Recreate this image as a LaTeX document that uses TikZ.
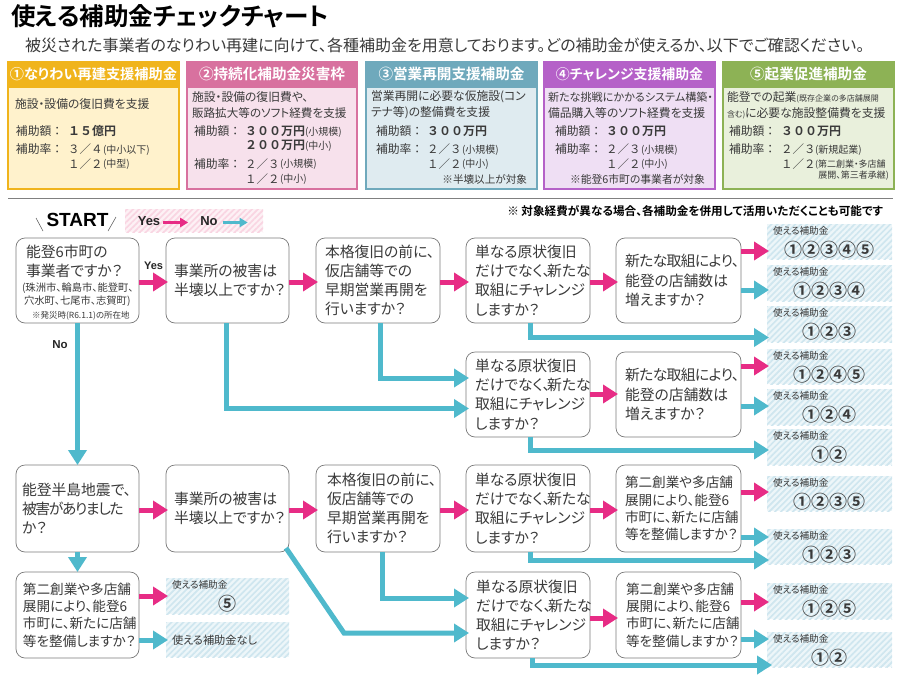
\documentclass[tikz,border=0pt]{standalone}
\usepackage{fontspec}
\usetikzlibrary{arrows.meta,patterns.meta,calc}
\setmainfont[RawFeature=+palt,BoldFont={Noto Sans CJK JP Bold}]{Noto Sans CJK JP}
\newfontfamily\fwfont[BoldFont={Noto Sans CJK JP Bold}]{Noto Sans CJK JP}
\newfontfamily\latfont{Liberation Sans}
\newcommand\fs[1]{\fontsize{#1}{#1}\selectfont}
\definecolor{ink}{HTML}{3A3A3A}
\definecolor{apink}{HTML}{E72C85}
\definecolor{ateal}{HTML}{4FB9CC}
\definecolor{hatchb}{HTML}{EDF6F9}
\definecolor{hatchl}{HTML}{CFE6EF}
\definecolor{hatchpb}{HTML}{FDF1F5}
\definecolor{hatchpl}{HTML}{F9D5E2}
\tikzset{
  every node/.style={inner sep=0pt,outer sep=0pt,text=ink},
  qbox/.style={draw=black!52,line width=.7pt,rounded corners=9pt,fill=white,align=left,anchor=center},
  pinkarrow/.style={draw=apink,line width=5pt,-{Triangle[length=15pt,width=18pt]}},
  tealarrow/.style={draw=ateal,line width=5pt,-{Triangle[length=15pt,width=18pt]}},
  resbox/.style={anchor=center,fill=hatchb,postaction={pattern={Lines[angle=45,distance=4.2pt,line width=1.7pt]},pattern color=hatchl}},
  cardtext/.style={anchor=west,align=left},
  headtext/.style={anchor=center,text=white,font=\bfseries\fs{14.6}},
}
\newcounter{tn}
\newcommand\tx[3]{\stepcounter{tn}\node[cardtext] (t\arabic{tn}) at (#1,#2) {#3};}
\newcommand\txr[3]{\stepcounter{tn}\node[anchor=east,align=right] (t\arabic{tn}) at (#1,#2) {#3};}
% name x1 y1 x2 y2 inset size leading text
\newcommand\qb[9]{%
  \pgfmathsetmacro\bw{#4-#2}\pgfmathsetmacro\bh{#5-#3}\pgfmathsetmacro\tw{#4-#2-2*#6}%
  \node[qbox,minimum width=\bw pt,minimum height=\bh pt,text width=\tw pt,inner xsep=#6pt] (#1) at ({(#2+#4)/2},{(#3+#5)/2}) {\fontsize{#7}{#8}\selectfont #9\par};}
% name x1 y1 x2 y2 numbers
\newcommand\rb[6]{%
  \pgfmathsetmacro\bw{#4-#2}\pgfmathsetmacro\bh{#5-#3}%
  \node[resbox,minimum width=\bw pt,minimum height=\bh pt] (#1) at ({(#2+#4)/2},{(#3+#5)/2}) {};
  \node[anchor=west,font=\fs{9.6}] (#1l) at ({#2+6},{#3+7}) {使える補助金};
  \node[anchor=center,font=\fwfont\bfseries\fs{18}] (#1n) at ({#2+62},{#3+25.5}) {#6};}
% card: name x1 x2 header-colour body-colour title
\newcommand\card[6]{%
  \pgfmathsetmacro\bw{#3-#2}%
  \definecolor{hc}{HTML}{#4}\definecolor{bc}{HTML}{#5}%
  \node[draw=hc,line width=2pt,fill=bc,minimum width=\bw pt-2pt,minimum height=127pt,anchor=north west] (#1) at ({#2+1},62) {};
  \node[fill=hc,minimum width=\bw pt,minimum height=27pt,anchor=north west] (#1h) at (#2,61) {};
  \node[headtext] (#1t) at ({(#2+#3)/2},74) {#6};}
\newcommand\fwn[1]{{\fwfont\fs{11.5}#1}}
\newcommand\fwb[1]{{\fwfont\bfseries\fs{12}#1}}
\newcommand\sm[1]{{\fs{10}#1}}
\newcommand\hgaku{{\fwfont 補助額：}}
\newcommand\hritu{{\fwfont 補助率：}}
\newcommand\dake{だけでなく、\kern-3pt 新たな}
\newcommand\atar{{\addfontfeature{LetterSpace=-4}新たな取組により、}}
\newcommand\higai{{\addfontfeature{LetterSpace=-9}被害がありました}}
% straight horizontal connector from a side point of one node to the edge of another
\newcommand\toedge[5][]{\coordinate (tmp) at ([yshift=#4pt]#2.east);\draw[#5,#1] (tmp) -- (tmp -| #3.west);}
\begin{document}
\begin{tikzpicture}[x=1pt,y=-1pt]
\useasboundingbox (0,0) rectangle (900,675);
\fill[white] (0,0) rectangle (900,675);
\node[anchor=west,font=\bfseries\fs{24.6},text=black] (title) at (11,16) {使える補助金チェックチャート};
\node[anchor=west,font=\fs{16}] (sub) at (25,45.5) {被災された事業者のなりわい再建に向けて、各種補助金を用意しております。どの補助金が使えるか、以下でご確認ください。};
\card{c1}{7}{180}{F0B41C}{FFF2CC}{\fs{14.2}①なりわい再建支援補助金}
\card{c2}{186}{358}{D8719F}{F7E1EC}{②持続化補助金災害枠}
\card{c3}{365}{538}{6FA9BC}{DFEBF0}{③営業再開支援補助金}
\card{c4}{543}{716}{B561C8}{EFDFF4}{\fs{13.9}④チャレンジ支援補助金}
\card{c5}{722}{895}{8DB255}{E9F0DC}{⑤起業促進補助金}
\fs{11.8}
% card 1
\tx{15}{104}{施設・設備の復旧費を支援}
\tx{16}{131}{\hgaku}\tx{68}{131}{\fwb{１５億円}}
\tx{16}{149}{\hritu}\tx{68}{149}{\fwn{３／４}}\tx{103}{150}{\sm{(中小以下)}}
\tx{68}{164}{\fwn{１／２}}\tx{103}{164}{\sm{(中型)}}
% card 2
\tx{192}{97}{施設・設備の復旧費や、}
\tx{192}{113}{\fs{11.6}販路拡大等のソフト経費を支援}
\tx{194}{131}{\hgaku}\tx{245}{131}{\fwb{３００万円}}\tx{305}{132}{\sm{(小規模)}}
\tx{245}{145}{\fwb{２００万円}}\tx{305}{146}{\sm{(中小)}}
\tx{194}{164}{\hritu}\tx{245}{164}{\fwn{２／３}}\tx{280}{164}{\sm{(小規模)}}
\tx{245}{179}{\fwn{１／２}}\tx{280}{179}{\sm{(中小)}}
% card 3
\tx{371}{97}{営業再開に必要な仮施設(コン}
\tx{371}{113}{テナ等)の整備費を支援}
\tx{376}{131}{\hgaku}\tx{427}{131}{\fwb{３００万円}}
\tx{376}{149}{\hritu}\tx{427}{149}{\fwn{２／３}}\tx{462}{150}{\sm{(小規模)}}
\tx{427}{164}{\fwn{１／２}}\tx{462}{164}{\sm{(中小)}}
\txr{527}{179}{{\fs{10.6}※半壊以上が対象}}
% card 4
\tx{548}{97}{\fs{11.1}新たな挑戦にかかるシステム構築・}
\tx{548}{113}{備品購入等のソフト経費を支援}
\tx{555}{131}{\hgaku}\tx{606}{131}{\fwb{３００万円}}
\tx{555}{149}{\hritu}\tx{606}{149}{\fwn{２／３}}\tx{641}{150}{\sm{(小規模)}}
\tx{606}{164}{\fwn{１／２}}\tx{641}{164}{\sm{(中小)}}
\txr{705}{179}{{\fs{10.8}※能登6市町の事業者が対象}}
% card 5
\tx{727}{97}{能登での起業{\fs{8}(既存企業の多店舗展開}}
\tx{727}{113}{{\fs{8}含む)}{\fs{11.8}に必要な施設整備費を支援}}
\tx{729}{131}{\hgaku}\tx{781}{131}{\fwb{３００万円}}
\tx{729}{149}{\hritu}\tx{781}{149}{\fwn{２／３}}\tx{815}{150}{\sm{(新規起業)}}
\tx{781}{164}{\fwn{１／２}}\tx{815}{165}{{\fs{9}(第二創業・多店舗}}
\txr{889}{176}{{\fs{9}展開、第三者承継)}}
% rule
\coordinate (ruleL) at (8,198.5);\coordinate (ruleR) at (893,198.5);
\draw[black!50,line width=.7pt] (ruleL) -- (ruleR);
% start
\node[font=\latfont\bfseries\fs{19},text=black] (start) at (77.5,220) {START};
\coordinate (s1a) at (36,218);\coordinate (s1b) at (43,231);\coordinate (s2a) at (116,217);\coordinate (s2b) at (108,231);
\draw[black!70,line width=.5pt] (s1a) -- (s1b);
\draw[black!70,line width=.5pt] (s2a) -- (s2b);
% legend
\node[minimum width=138pt,minimum height=23pt,anchor=north west,fill=hatchpb,postaction={pattern={Lines[angle=45,distance=4.2pt,line width=1.7pt]},pattern color=hatchpl}] (legend) at (125,209) {};
\node[font=\latfont\bfseries\fs{13},text=black!85] (lyes) at (149,221) {Yes};
\node[font=\latfont\bfseries\fs{13},text=black!85] (lno) at (209,221) {No};
\draw[draw=apink,line width=2.6pt,-{Triangle[length=8pt,width=9pt]}] ([shift={(3pt,-1.5pt)}]lyes.east) -- ++(25,0);
\draw[draw=ateal,line width=2.6pt,-{Triangle[length=8pt,width=9pt]}] ([shift={(5pt,-1.5pt)}]lno.east) -- ++(25,0);
\node[anchor=east,font=\bfseries\fs{11.6},text=black] (note) at (883,211) {※ 対象経費が異なる場合、各補助金を併用して活用いただくことも可能です};
% result boxes
\rb{r1}{767}{224}{892}{259}{①②③④⑤}
\rb{r2}{767}{265}{892}{301}{①②③④}
\rb{r3}{767}{306}{892}{342}{①②③}
\rb{r4}{767}{349}{892}{384}{①②④⑤}
\rb{r5}{767}{389}{892}{425}{①②④}
\rb{r6}{767}{429}{892}{465}{①②}
\rb{r7}{767}{476}{892}{511}{①②③⑤}
\rb{r8}{767}{529}{892}{564}{①②③}
\rb{r9}{767}{583}{892}{619}{①②⑤}
\rb{r10}{767}{632}{892}{667}{①②}
\node[resbox,minimum width=123pt,minimum height=36pt,anchor=north west] (r11) at (166,578) {};
\node[anchor=west,font=\fs{9.6}] (r11l) at (172,585) {使える補助金};
\node[anchor=center,font=\fwfont\bfseries\fs{18}] (r11n) at (227,604) {⑤};
\node[resbox,minimum width=123pt,minimum height=35pt,anchor=north west] (r12) at (166,622) {};
\node[anchor=west,font=\fs{11.2}] (r12l) at (172,640) {使える補助金なし};
% question boxes
\qb{a}{16}{238}{139}{323}{10}{14.8}{19}{}
\tx{26}{252}{\fs{14.8}能登6市町の}
\tx{26}{271}{\fs{14.8}事業者ですか？}
\tx{22}{288}{\fs{10.3}(珠洲市、輪島市、能登町、}
\tx{24}{301}{\fs{10.3}穴水町、七尾市、志賀町)}
\tx{32}{316}{\fs{8.5}※発災時(R6.1.1)の所在地}
\qb{b}{166}{238}{289}{323}{8}{14.8}{19}{事業所の被害は\\半壊以上ですか？}
\qb{c}{316}{238}{440}{323}{9}{14.8}{19.2}{本格復旧の前に、\\仮店舗等での\\早期営業再開を\\行いますか？}
\qb{d}{466}{238}{590}{323}{9}{14.8}{19.2}{単なる原状復旧\\\dake\\取組にチャレンジ\\しますか？}
\qb{e}{616}{238}{741}{323}{9}{14.8}{19.2}{\atar\\能登の店舗数は\\増えますか？}
\qb{d2}{466}{352}{590}{437}{9}{14.8}{19.2}{単なる原状復旧\\\dake\\取組にチャレンジ\\しますか？}
\qb{e2}{616}{352}{741}{437}{9}{14.8}{19.2}{\atar\\能登の店舗数は\\増えますか？}
\qb{a3}{16}{465}{139}{552}{6}{14.8}{19.2}{能登半島地震で、\\\higai\\か？}
\qb{b3}{166}{465}{289}{552}{8}{14.8}{19}{事業所の被害は\\半壊以上ですか？}
\qb{c3}{316}{465}{440}{552}{11}{14.8}{19.2}{本格復旧の前に、\\仮店舗等での\\早期営業再開を\\行いますか？}
\qb{d3}{466}{465}{590}{552}{9}{14.8}{19.2}{単なる原状復旧\\\dake\\取組にチャレンジ\\しますか？}
\qb{e3}{616}{465}{741}{552}{9}{13.6}{17.3}{第二創業や多店舗\\展開により、能登6\\市町に、新たに店舗\\等を整備しますか？}
\qb{a4}{16}{572}{139}{658}{7}{13.6}{17.3}{第二創業や多店舗\\展開により、能登6\\市町に、新たに店舗\\等を整備しますか？}
\qb{d4}{466}{572}{590}{658}{10}{14.8}{19.2}{単なる原状復旧\\\dake\\取組にチャレンジ\\しますか？}
\qb{e4}{616}{572}{741}{658}{10}{13.6}{17.3}{第二創業や多店舗\\展開により、能登6\\市町に、新たに店舗\\等を整備しますか？}
% connectors
\toedge[shorten >=-2pt]{a}{b}{-1.5}{pinkarrow}
\node[font=\latfont\bfseries\fs{11},text=black!85] (yes) at (153.5,266) {Yes};
\toedge[shorten >=-2pt]{b}{c}{-1.5}{pinkarrow}
\toedge[shorten >=-3pt]{c}{d}{-1.5}{pinkarrow}
\toedge[shorten >=-2pt]{d}{e}{-1.5}{pinkarrow}
\toedge[shorten >=-2pt]{e}{r1}{29.5}{pinkarrow}
\toedge[shorten >=-2pt]{e}{r2}{-9.5}{tealarrow}
\draw[tealarrow,shorten >=-2pt] ([xshift=2pt]d.south) |- ([yshift=-13.5pt]r3.west);
\draw[tealarrow] (a.south) -- (a3.north);
\node[font=\latfont\bfseries\fs{11.5},text=black!85] (no) at (60,345) {No};
\draw[tealarrow,shorten >=-3pt] ([xshift=2pt]c.south) |- ([yshift=16.5pt]d2.west);
\draw[tealarrow,shorten >=-3pt] ([xshift=-1.5pt]b.south) |- ([yshift=-14pt]d2.west);
\toedge[shorten >=-2pt]{d2}{e2}{.5}{pinkarrow}
\toedge[shorten >=-2pt]{e2}{r4}{28.5}{pinkarrow}
\toedge[shorten >=-2pt]{e2}{r5}{-11.5}{tealarrow}
\draw[tealarrow,shorten >=-2pt] ([xshift=2pt]d2.south) |- ([yshift=-3pt]r6.west);
\toedge[shorten >=-2pt]{a3}{b3}{-1.5}{pinkarrow}
\toedge[shorten >=-2pt]{b3}{c3}{-1.5}{pinkarrow}
\toedge[shorten >=-3pt]{c3}{d3}{-1.5}{pinkarrow}
\toedge[shorten >=-2pt]{d3}{e3}{-1.5}{pinkarrow}
\toedge[shorten >=-2pt]{e3}{r7}{16.5}{pinkarrow}
\toedge[shorten >=-2pt]{e3}{r8}{-28.5}{tealarrow}
\draw[tealarrow,shorten >=-2pt] ([xshift=2pt]d3.south) |- ([yshift=-13.5pt]r8.west);
\draw[tealarrow] (a3.south) -- (a4.north);
\toedge[shorten >=-2pt]{a4}{r11}{19}{pinkarrow}
\toedge[shorten >=-2pt]{a4}{r12}{-25}{tealarrow}
\draw[tealarrow,shorten >=-3pt] ([xshift=4pt]c3.south) |- ([yshift=17pt]d4.west);
\coordinate (bend) at (344,633);
\draw[tealarrow,shorten >=-3pt,line join=miter] ([shift={(-3pt,4pt)}]b3.south east) -- (bend) -- ([yshift=-18pt]d4.west);
\toedge[shorten >=-2pt]{d4}{e4}{-3}{pinkarrow}
\toedge[shorten >=-2pt]{e4}{r9}{13}{pinkarrow}
\toedge[shorten >=-2pt]{e4}{r10}{-24}{tealarrow}
\draw[tealarrow,shorten >=-5pt] ([xshift=4pt]d4.south) |- ([yshift=-15.5pt]r10.west);
\end{tikzpicture}
\end{document}
